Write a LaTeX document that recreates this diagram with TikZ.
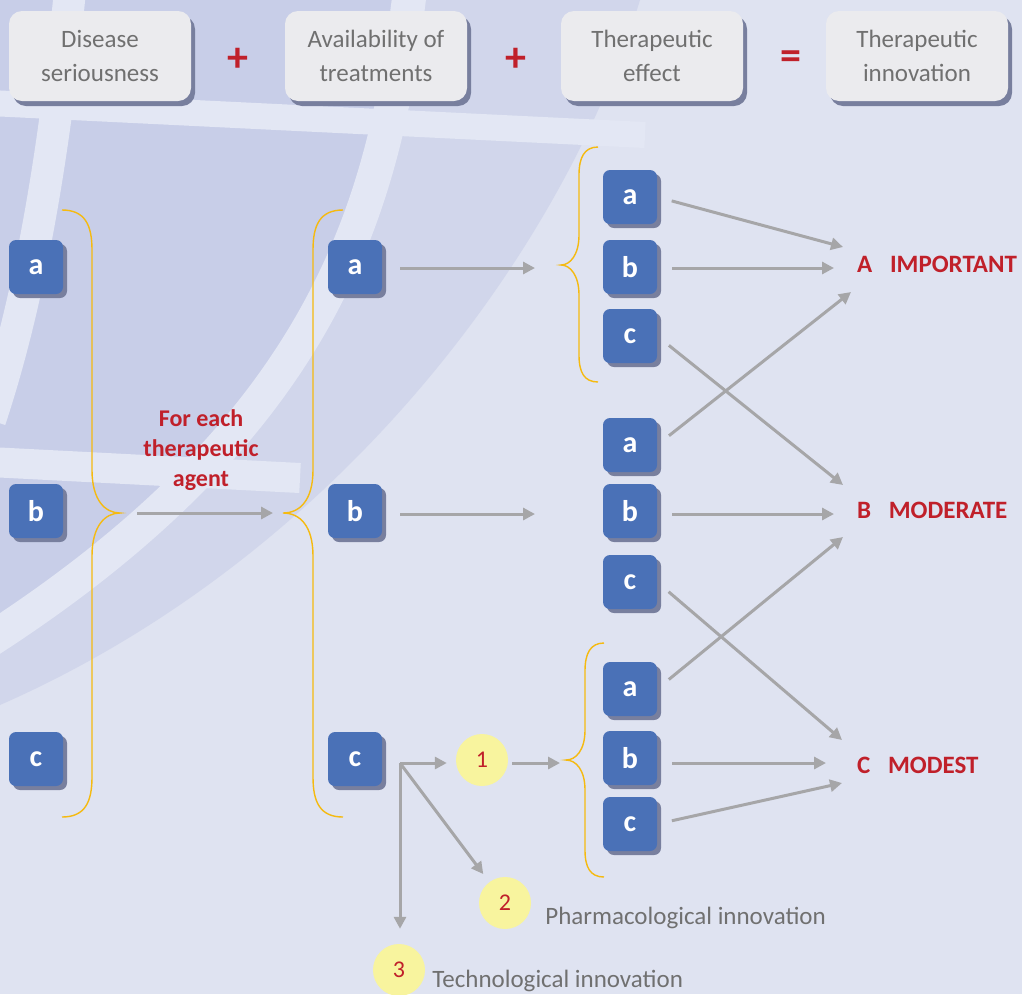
\documentclass[tikz,border=0pt]{standalone}
\usepackage{fontspec}
\setmainfont{Carlito}
\usepackage{tikz}
\usetikzlibrary{arrows.meta}
\usetikzlibrary{calc}
\usetikzlibrary{positioning}
\usetikzlibrary{shadows}
\definecolor{bglight}{HTML}{DFE3F1}
\definecolor{bgmid}{HTML}{D1D6EB}
\definecolor{bgdark}{HTML}{C8CEE8}
\definecolor{bgband}{HTML}{E3E7F4}
\definecolor{boxfill}{HTML}{EBEBEE}
\definecolor{boxshadow}{HTML}{787F9E}
\definecolor{boxblue}{HTML}{4A71B7}
\definecolor{hdgray}{HTML}{707070}
\definecolor{innred}{HTML}{C0202A}
\definecolor{arrgray}{HTML}{A6A6A8}
\definecolor{braceyel}{HTML}{F5BA10}
\definecolor{numfill}{HTML}{F8F49E}
\newcommand{\hdfont}{\fontsize{25}{34}\selectfont}
\newcommand{\lbfont}{\fontsize{30}{30}\selectfont\bfseries}
\newcommand{\outfont}{\fontsize{25}{25}\selectfont\bfseries}
\newcommand{\agentfont}{\fontsize{24}{30}\selectfont\bfseries}
\newcommand{\numfont}{\fontsize{24}{24}\selectfont}
\newcommand{\opfont}{\fontsize{42}{42}\selectfont\bfseries}

\begin{document}
\begin{tikzpicture}[x=1pt, y=-1pt,
    header/.style={fill=boxfill, rounded corners=13pt, minimum width=182pt, minimum height=90pt,
        align=center, text=hdgray, font=\hdfont,
        drop shadow={shadow xshift=4pt, shadow yshift=-5pt, opacity=1, fill=boxshadow}},
    op sign/.style={text=innred, font=\opfont, inner sep=0pt},
    letter box/.style={fill=boxblue, rounded corners=7pt, minimum size=54pt, inner sep=0pt,
        text=white, font=\lbfont,
        drop shadow={shadow xshift=4pt, shadow yshift=-4pt, opacity=1, fill=boxshadow}},
    num circle/.style={circle, fill=numfill, minimum size=52pt, inner sep=0pt, text=innred, font=\numfont},
    outcome/.style={anchor=west, inner sep=0pt, text=innred, font=\outfont},
    caption/.style={inner sep=0pt, text=hdgray, font=\hdfont},
    arrow line/.style={draw=arrgray, line width=3pt, -{Triangle[length=12pt,width=12pt]}},
    brace line/.style={draw=braceyel, line width=1.4pt},
    band/.style={draw=bgband, line cap=butt},
    ]

%% background
\useasboundingbox (0,0) rectangle (1022,994);
\fill[bglight] (0,0) rectangle (1022,994);
\fill[bgmid] (0,0) -- (640,0) .. controls (560,260) and (330,560) .. (0,705) -- cycle;
\fill[bgdark] (0,0) -- (400,0) .. controls (375,200) and (320,420) .. (0,640) -- cycle;
\draw[band, line width=32pt] (70,-10) .. controls (55,150) and (30,300) .. (-10,420);
\draw[band, line width=34pt] (410,-10) .. controls (385,200) and (330,420) .. (-10,640);
\draw[band, line width=26pt] (-10,103) -- (645,135);
\draw[band, line width=30pt] (-10,462) -- (300,478);

%% header boxes
\node[header] (h1) at (100,56) {Disease\\seriousness};
\node[header] (h2) at (376,56) {Availability of\\treatments};
\node[header] (h3) at (652,56) {Therapeutic\\effect};
\node[header] (h4) at (917,56) {Therapeutic\\innovation};
\node[op sign] (p1) at (238,60) {+};
\node[op sign] (p2) at (516,60) {+};
\node[op sign] (p3) at (791,60) {=};

%% braces
\coordinate (br1) at (120,513);
\coordinate (br2) at (283,513);
\coordinate (br3) at (561,265);
\coordinate (br4) at (566,760);
\draw[brace line] (62,210) .. controls (85,210) and (92,225) .. (92,250) -- (92,470)
    .. controls (92,500) and (105,513) .. (br1) .. controls (105,513) and (92,526) .. (92,556)
    -- (92,777) .. controls (92,802) and (85,817) .. (62,817);
\draw[brace line] (343,210) .. controls (320,210) and (313,225) .. (313,250) -- (313,470)
    .. controls (313,500) and (300,513) .. (br2) .. controls (300,513) and (313,526) .. (313,556)
    -- (313,777) .. controls (313,802) and (320,817) .. (343,817);
\draw[brace line] (598,147) .. controls (584,147) and (579,158) .. (579,175) -- (579,235)
    .. controls (579,255) and (570,265) .. (br3) .. controls (570,265) and (579,275) .. (579,295)
    -- (579,355) .. controls (579,372) and (584,382) .. (598,382);
\draw[brace line] (604,643) .. controls (590,643) and (585,654) .. (585,671) -- (585,730)
    .. controls (585,750) and (576,760) .. (br4) .. controls (576,760) and (585,770) .. (585,790)
    -- (585,850) .. controls (585,867) and (590,877) .. (604,877);

%% letter boxes
\node[letter box] (s1) at (36,267) {a};
\node[letter box] (s2) at (36,511) {b};
\node[letter box] (s3) at (36,759) {c};
\node[letter box] (t1) at (355,267) {a};
\node[letter box] (t2) at (355,511) {b};
\node[letter box] (t3) at (355,759) {c};
\node[letter box] (e1) at (630,197) {a};
\node[letter box] (e2) at (630,267) {b};
\node[letter box] (e3) at (630,336) {c};
\node[letter box] (e4) at (630,445) {a};
\node[letter box] (e5) at (630,511) {b};
\node[letter box] (e6) at (630,582) {c};
\node[letter box] (e7) at (630,689) {a};
\node[letter box] (e8) at (630,758) {b};
\node[letter box] (e9) at (630,824) {c};

\node[text=innred, font=\agentfont, align=center] (agent) at (201,450) {For each\\therapeutic\\agent};

%% outcomes
\node[outcome] (oA) at (857,264) {A\hspace{12pt} IMPORTANT};
\node[outcome] (oB) at (857,510) {B\hspace{12pt} MODERATE};
\node[outcome] (oC) at (857,765) {C\hspace{12pt} MODEST};
\coordinate (A1) at (843,247); \coordinate (A2) at (834,268); \coordinate (A3) at (851,292);
\coordinate (B1) at (843,485); \coordinate (B2) at (834,514); \coordinate (B3) at (843,537);
\coordinate (C1) at (842,740); \coordinate (C2) at (826,763); \coordinate (C3) at (842,783);

%% innovation types
\node[num circle] (n1) at (482,760) {1};
\node[num circle] (n2) at (505,903) {2};
\node[num circle] (n3) at (399,970) {3};
\node[caption, anchor=west, right=14pt of n2, yshift=-15pt] (cap2) {Pharmacological innovation};
\node[caption, anchor=west, right=7pt of n3, yshift=-11pt] (cap3) {Technological innovation};

%% draw arrows
\draw[arrow line, shorten <=17pt, shorten >=10pt] (br1) -- (br2);
\draw[arrow line, shorten <=18pt, shorten >=26pt] (t1.east |- A2) -- (A2 -| br3);
\draw[arrow line, shorten <=18pt, shorten >=26pt] (t2.east |- B2) -- (B2 -| br3);
\coordinate (fork) at (400,763);
\draw[arrow line, shorten >=9pt] (fork) -- (fork -| n1.west);
\draw[arrow line, shorten >=15pt] (fork) -- (fork |- n3.north);
\draw[arrow line, shorten >=10pt] (fork) -- (n2);
\draw[arrow line, shorten <=4pt, shorten >=6pt] (n1.east |- fork) -- (br4 |- fork);

\draw[arrow line, shorten <=15pt] (e1.east) -- (A1);
\draw[arrow line, shorten <=15pt] (e2.east |- A2) -- (A2);
\draw[arrow line, shorten <=15pt] (e3.east) -- (B1);
\draw[arrow line, shorten <=15pt] (e4.east) -- (A3);
\draw[arrow line, shorten <=15pt] (e5.east |- B2) -- (B2);
\draw[arrow line, shorten <=15pt] (e6.east) -- (C1);
\draw[arrow line, shorten <=15pt] (e7.east) -- (B3);
\draw[arrow line, shorten <=15pt] (e8.east |- C2) -- (C2);
\draw[arrow line, shorten <=15pt] (e9.east) -- (C3);

\end{tikzpicture}
\end{document}
